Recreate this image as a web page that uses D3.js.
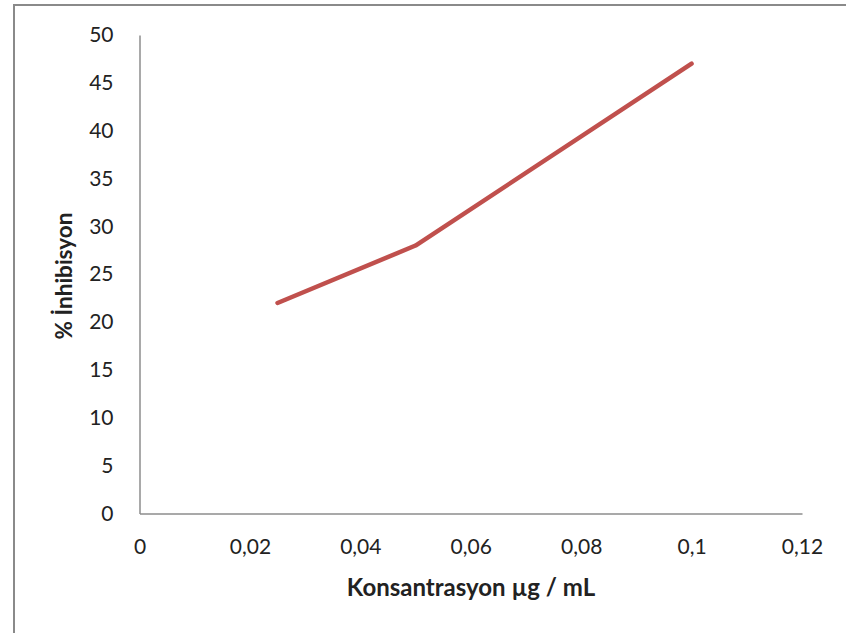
<!DOCTYPE html>
<html>
<head>
<meta charset="utf-8">
<script src="https://cdn.jsdelivr.net/npm/d3@7"></script>
<style>
  html, body { margin: 0; padding: 0; background: #fff; }
  svg { display: block; }
  text { font-family: Lato, "Open Sans", sans-serif; fill: #222; }
</style>
</head>
<body>
<svg id="chart" width="846" height="633"></svg>
<script>
// Concentration (µg/mL) and inhibition (%)
const concentrations = [0.025, 0.05, 0.1];
const inhibition = [22, 28, 47];

const xTicks = [0, 0.02, 0.04, 0.06, 0.08, 0.1, 0.12];
const yTicks = [0, 5, 10, 15, 20, 25, 30, 35, 40, 45, 50];
const xTitle = "Konsantrasyon µg / mL";
const yTitle = "% İnhibisyon";

const svg = d3.select("#chart");
const W = 846, H = 633;
const plot = { left: 139.5, right: 802, top: 35, bottom: 513.5 };

// Outer chart frame
svg.append("rect")
  .attr("x", 14).attr("y", 5)
  .attr("width", W + 20).attr("height", H + 20)
  .attr("fill", "none")
  .attr("stroke", "#8a8a8a")
  .attr("stroke-width", 2);

const x = d3.scaleLinear().domain([0, 0.12]).range([plot.left, plot.right]);
const y = d3.scaleLinear().domain([0, 50]).range([plot.bottom, plot.top]);

const fmt = d => d3.format("~g")(d).replace(".", ",");

// X axis
const gx = svg.append("g")
  .attr("transform", `translate(0,${plot.bottom})`)
  .call(d3.axisBottom(x).tickValues(xTicks).tickSize(0).tickPadding(26).tickFormat(fmt));
gx.select(".domain").attr("stroke", "#8c8c8c").attr("stroke-width", 1.5);
gx.selectAll("text").style("font-size", "21px").style("font-family", "Lato, sans-serif").attr("fill", "#222");

// Y axis
const gy = svg.append("g")
  .attr("transform", `translate(${plot.left},0)`)
  .call(d3.axisLeft(y).tickValues(yTicks).tickSize(0).tickPadding(26).tickFormat(fmt));
gy.select(".domain").attr("stroke", "#8c8c8c").attr("stroke-width", 1.5);
gy.selectAll("text").style("font-size", "21px").style("font-family", "Lato, sans-serif").attr("fill", "#222");

// Series line
const pts = concentrations.map((c, i) => [c, inhibition[i]]);
svg.append("path")
  .datum(pts)
  .attr("fill", "none")
  .attr("stroke", "#c0504d")
  .attr("stroke-width", 4.5)
  .attr("stroke-linecap", "round")
  .attr("stroke-linejoin", "round")
  .attr("d", d3.line().x(d => x(d[0])).y(d => y(d[1])));

// Axis titles
svg.append("text")
  .attr("x", 471).attr("y", 596)
  .attr("text-anchor", "middle")
  .style("font-size", "24px").style("font-weight", "bold")
  .text(xTitle);

svg.append("text")
  .attr("transform", "translate(72,276) rotate(-90)")
  .attr("text-anchor", "middle")
  .style("font-size", "22.5px").style("font-weight", "bold")
  .text(yTitle);
</script>
</body>
</html>
